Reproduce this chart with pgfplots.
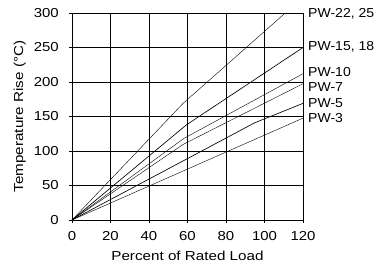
\documentclass[border=0pt]{standalone}
\usepackage{fontspec}
\setmainfont[FakeStretch=1.08]{Liberation Sans}
\newfontfamily\labelfont[FakeStretch=1.17]{Liberation Sans}
\newfontfamily\tickfont[FakeStretch=1.15]{Liberation Sans}
\usepackage{pgfplots}
\pgfplotsset{compat=1.18}
\begin{document}
\begin{tikzpicture}
\fontsize{13}{15}\selectfont
\begin{axis}[
  name=ax,
  scale only axis,
  width=231pt, height=207pt,
  xmin=0, xmax=120, ymin=0, ymax=300,
  xtick={0,20,...,120}, ytick={0,50,...,300},
  grid=major,
  grid style={black, line width=0.8pt},
  axis line style={black, line width=0.8pt},
  tick align=outside,
  major tick length=3pt,
  tick style={black, line width=0.8pt},
  xtick pos=bottom, ytick pos=left,
  /pgf/number format/assume math mode=true,
  ticklabel style={font=\tickfont\fontsize{13}{15}\selectfont},
  xticklabel style={anchor=base, yshift=-18pt},
  yticklabel style={anchor=east, xshift=-10pt, inner sep=0pt},
  xlabel={Percent of Rated Load},
  ylabel={Temperature Rise (°C)},
  label style={font=\labelfont\fontsize{13}{15}\selectfont},
  xlabel style={at={(axis description cs:0.5,0)}, anchor=base, yshift=-40.7pt, inner sep=0pt},
  ylabel style={at={(axis description cs:-0.199,0.5)}, anchor=south, inner sep=0pt},
  clip=false,
  cycle list={{black, line width=0.65pt, mark=none}},
]
\addplot coordinates {(0,0) (57.7,169) (110.8,300)};
\addplot coordinates {(0,0) (59.5,138) (120,250)};
\addplot coordinates {(0,0) (58,118) (120,212)};
\addplot coordinates {(0,0) (58,110) (120,197.5)};
\addplot coordinates {(0,0) (60,89) (95,141) (120,169)};
\addplot coordinates {(0,0) (120,147.6)};
\node[anchor=west, inner sep=0pt, xshift=5pt] at (axis cs:120,299) {PW-22, 25};
\node[anchor=west, inner sep=0pt, xshift=5pt] at (axis cs:120,251) {PW-15, 18};
\node[anchor=west, inner sep=0pt, xshift=5pt] at (axis cs:120,214) {PW-10};
\node[anchor=west, inner sep=0pt, xshift=5pt] at (axis cs:120,192) {PW-7};
\node[anchor=west, inner sep=0pt, xshift=5pt] at (axis cs:120,170) {PW-5};
\node[anchor=west, inner sep=0pt, xshift=5pt] at (axis cs:120,148) {PW-3};
\end{axis}
\pgfresetboundingbox
\path[use as bounding box] ([shift={(-72pt,-49pt)}]ax.south west) rectangle ([shift={(80pt,13pt)}]ax.north east);
\end{tikzpicture}
\end{document}
